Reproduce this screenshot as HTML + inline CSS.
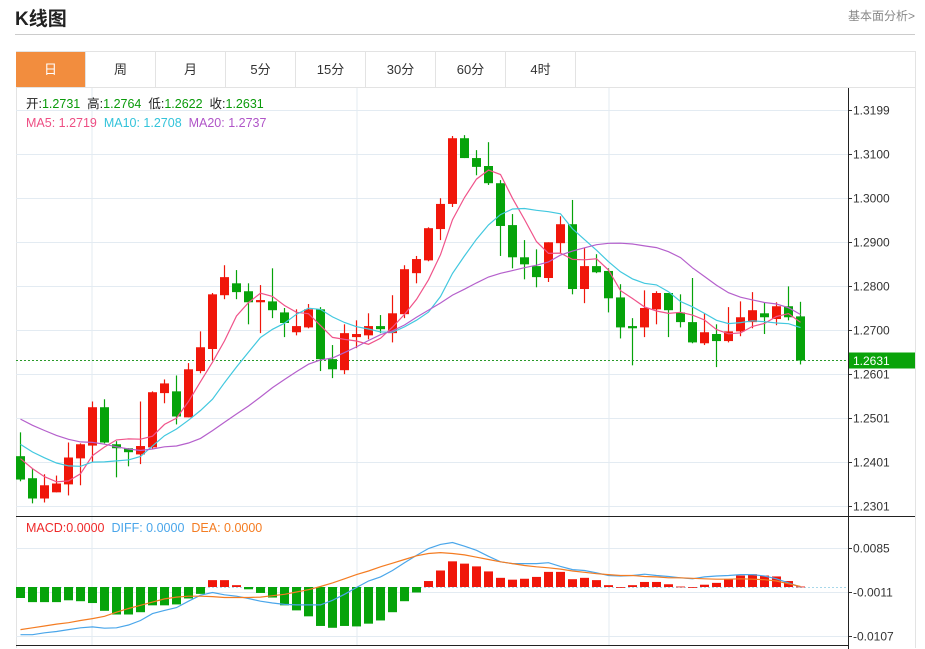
<!DOCTYPE html>
<html><head><meta charset="utf-8"><style>
body{margin:0;background:#fff;width:925px;height:649px;overflow:hidden;font-family:"Liberation Sans","Noto Sans CJK SC",sans-serif;}
#title{position:absolute;left:15px;top:4px;font-size:19px;font-weight:bold;color:#222;}
#more{position:absolute;left:848px;top:7px;font-size:12px;color:#888;}
#hr{position:absolute;left:15px;top:34px;width:900px;height:1px;background:#ccc;}
#box{position:absolute;left:16px;top:51px;width:898px;height:596px;border:1px solid #e3e3e3;border-bottom:none;}
.tab{position:absolute;top:52px;height:35px;width:70px;line-height:35px;text-align:center;font-size:13px;color:#333;border-right:1px solid #e3e3e3;box-sizing:border-box;}
.tab.on{background:#f28d3e;color:#fff;}
#tabline{position:absolute;left:16px;top:87px;width:899px;height:1px;background:#e3e3e3;}
svg{position:absolute;left:0;top:0;}
</style></head><body>
<div id="title">K线图</div>
<div id="more">基本面分析&gt;</div>
<div id="hr"></div>
<div id="box"></div>
<div class="tab on" style="left:16px">日</div>
<div class="tab" style="left:86px">周</div>
<div class="tab" style="left:156px">月</div>
<div class="tab" style="left:226px">5分</div>
<div class="tab" style="left:296px">15分</div>
<div class="tab" style="left:366px">30分</div>
<div class="tab" style="left:436px">60分</div>
<div class="tab" style="left:506px">4时</div>
<div id="tabline"></div>
<svg id="chart" width="925" height="649"></svg>
<script>
const priorCloses=[1.2600,1.2585,1.2570,1.2590,1.2560,1.2545,1.2530,1.2550,1.2520,1.2505,1.2490,1.2480,1.2470,1.2475,1.2450,1.2430,1.2440,1.2410,1.2400];
const opens=[1.2414,1.2364,1.2318,1.2332,1.2350,1.2409,1.2438,1.2525,1.2441,1.2432,1.2418,1.2434,1.2557,1.2561,1.2502,1.2607,1.2657,1.2779,1.2806,1.2788,1.2763,1.2765,1.2740,1.2695,1.2706,1.2747,1.2634,1.2609,1.2684,1.2688,1.2709,1.2693,1.2736,1.2829,1.2858,1.2929,1.2986,1.3135,1.3090,1.3072,1.3033,1.2938,1.2865,1.2845,1.2818,1.2897,1.2940,1.2793,1.2845,1.2834,1.2774,1.2709,1.2706,1.2747,1.2784,1.2740,1.2718,1.2670,1.2691,1.2675,1.2697,1.2718,1.2738,1.2725,1.2754,1.2731];
const closes=[1.2361,1.2318,1.2348,1.2352,1.2411,1.2441,1.2525,1.2445,1.2432,1.2423,1.2437,1.2559,1.2579,1.2504,1.2611,1.2661,1.2781,1.2820,1.2786,1.2763,1.2768,1.2745,1.2716,1.2709,1.2747,1.2634,1.2611,1.2693,1.2691,1.2709,1.2702,1.2738,1.2838,1.2861,1.2931,1.2986,1.3135,1.3090,1.3070,1.3033,1.2936,1.2865,1.2849,1.2820,1.2899,1.2940,1.2793,1.2845,1.2831,1.2772,1.2706,1.2704,1.2750,1.2784,1.2745,1.2718,1.2672,1.2695,1.2675,1.2697,1.2729,1.2745,1.2729,1.2754,1.2729,1.2631];
const highs=[1.2468,1.2386,1.2373,1.2370,1.2445,1.2443,1.2538,1.2543,1.2448,1.2432,1.2538,1.2561,1.2588,1.2597,1.2625,1.2697,1.2784,1.2847,1.2836,1.2806,1.2802,1.2840,1.2750,1.2747,1.2759,1.2752,1.2666,1.2713,1.2722,1.2738,1.2734,1.2779,1.2847,1.2868,1.2933,1.2999,1.3140,1.3142,1.3108,1.3126,1.3040,1.2963,1.2904,1.2883,1.2899,1.2958,1.2995,1.2886,1.2872,1.2840,1.2804,1.2727,1.2790,1.2788,1.2784,1.2781,1.2818,1.2738,1.2713,1.2752,1.2765,1.2786,1.2763,1.2763,1.2799,1.2764];
const lows=[1.2357,1.2307,1.2309,1.2332,1.2325,1.2348,1.2400,1.2443,1.2366,1.2391,1.2396,1.2430,1.2534,1.2486,1.2502,1.2602,1.2632,1.2770,1.2770,1.2713,1.2693,1.2727,1.2684,1.2688,1.2704,1.2607,1.2591,1.2600,1.2659,1.2679,1.2693,1.2672,1.2727,1.2806,1.2856,1.2904,1.2979,1.3090,1.3051,1.3029,1.2868,1.2840,1.2815,1.2797,1.2809,1.2874,1.2781,1.2761,1.2829,1.2740,1.2681,1.2620,1.2684,1.2713,1.2684,1.2706,1.2670,1.2666,1.2616,1.2672,1.2686,1.2704,1.2691,1.2711,1.2722,1.2622];
const macdBars=[-0.0024,-0.0033,-0.0033,-0.0033,-0.0029,-0.0031,-0.0035,-0.0052,-0.0060,-0.0060,-0.0055,-0.0040,-0.0040,-0.0038,-0.0025,-0.0015,0.0015,0.0015,0.0004,-0.0005,-0.0013,-0.0023,-0.0040,-0.0051,-0.0064,-0.0085,-0.0089,-0.0085,-0.0086,-0.0080,-0.0073,-0.0055,-0.0031,-0.0012,0.0013,0.0036,0.0056,0.0051,0.0045,0.0034,0.0020,0.0016,0.0018,0.0022,0.0033,0.0033,0.0017,0.0020,0.0015,0.0004,0.0000,0.0004,0.0011,0.0011,0.0006,0.0001,0.0000,0.0005,0.0009,0.0017,0.0025,0.0028,0.0025,0.0023,0.0013,0.0001];
const diffVals=[-0.0104,-0.0104,-0.0100,-0.0097,-0.0093,-0.0089,-0.0087,-0.0090,-0.0089,-0.0083,-0.0073,-0.0058,-0.0051,-0.0045,-0.0031,-0.0018,-0.0012,-0.0017,-0.0020,-0.0025,-0.0031,-0.0035,-0.0038,-0.0039,-0.0039,-0.0039,-0.0029,-0.0016,-0.0001,0.0013,0.0022,0.0036,0.0053,0.0069,0.0084,0.0093,0.0097,0.0089,0.0080,0.0067,0.0055,0.0051,0.0051,0.0051,0.0053,0.0045,0.0038,0.0036,0.0031,0.0025,0.0024,0.0025,0.0028,0.0025,0.0023,0.0020,0.0018,0.0022,0.0024,0.0025,0.0027,0.0027,0.0024,0.0018,0.0009,0.0000];
const deaVals=[-0.0093,-0.0089,-0.0085,-0.0081,-0.0078,-0.0073,-0.0069,-0.0064,-0.0055,-0.0047,-0.0040,-0.0033,-0.0026,-0.0022,-0.0020,-0.0020,-0.0021,-0.0023,-0.0023,-0.0023,-0.0022,-0.0019,-0.0016,-0.0011,-0.0006,0.0001,0.0009,0.0018,0.0027,0.0035,0.0044,0.0052,0.0060,0.0068,0.0073,0.0075,0.0073,0.0070,0.0065,0.0060,0.0055,0.0051,0.0047,0.0044,0.0042,0.0039,0.0035,0.0032,0.0029,0.0027,0.0025,0.0025,0.0023,0.0022,0.0020,0.0020,0.0019,0.0018,0.0017,0.0017,0.0018,0.0017,0.0016,0.0013,0.0007,0.0001];
const priceTicks=["1.3199","1.3100","1.3000","1.2900","1.2800","1.2700","1.2601","1.2501","1.2401","1.2301"];
const macdTicks=["0.0085","-0.0011","-0.0107"];

const svg=document.getElementById('chart');
const NS='http://www.w3.org/2000/svg';
function mk(t,a,p){const e=document.createElementNS(NS,t);for(const k in a)e.setAttribute(k,a[k]);(p||svg).appendChild(e);return e;}
const xOf=i=>20.5+i*12;
const yK=v=>110+(1.3199-v)*4409.8;
const yM=v=>587-v*4583;
// grid
const g=mk('g',{});


[92,357,609].forEach(x=>{mk('line',{x1:x,x2:x,y1:88,y2:645,stroke:'#e3ebf2','stroke-width':1},g);});
priceTicks.forEach(t=>{const y=Math.round(yK(+t))+0.5;mk('line',{x1:16,x2:848,y1:y,y2:y,stroke:'#e3ebf2'},g);
 const l=mk('line',{x1:848,x2:852,y1:y,y2:y,stroke:'#333'});
 const tx=mk('text',{x:853,y:y+4,'font-size':12,fill:'#333'});tx.textContent=t;
 
 });
macdTicks.forEach(t=>{const y=Math.round(yM(+t))+0.5;mk('line',{x1:16,x2:848,y1:y,y2:y,stroke:'#e3ebf2'},g);
 mk('line',{x1:848,x2:852,y1:y,y2:y,stroke:'#333'});
 const tx=mk('text',{x:853,y:y+4,'font-size':12,fill:'#333'});tx.textContent=t;
 
 });
mk('line',{x1:848.5,x2:848.5,y1:88,y2:649,stroke:'#222'});
mk('line',{x1:16,x2:915,y1:516.5,y2:516.5,stroke:'#222'});
mk('line',{x1:16,x2:848,y1:645.5,y2:645.5,stroke:'#222'});
// current price line
const cy=Math.round(yK(closes[closes.length-1]))+0.5;
mk('line',{x1:16,x2:848,y1:cy,y2:cy,stroke:'#2a9a2a','stroke-dasharray':'2,2'});
const tag=mk('rect',{x:849,y:cy-8,width:66,height:16,fill:'#0aa30a'});


const tt=mk('text',{x:853,y:cy+4.5,'font-size':12,fill:'#fff'});tt.textContent=closes[closes.length-1].toFixed(4);
// candles
closes.forEach((c,i)=>{const o=opens[i],up=c>=o,col=up?'#f0160a':'#06a30a';const x=xOf(i);
 const cg=mk('g',{});
 
 
 mk('line',{x1:x,x2:x,y1:yK(highs[i]),y2:yK(lows[i]),stroke:col,'stroke-width':1.2},cg);
 const t=yK(Math.max(o,c)),b=yK(Math.min(o,c));
 mk('rect',{x:x-4.5,y:t,width:9,height:Math.max(1.5,b-t),fill:col},cg);});
// MAs
const all=priorCloses.concat(closes);
function ma(n){return closes.map((c,i)=>{const j=i+priorCloses.length;let s=0;for(let k=j-n+1;k<=j;k++)s+=all[k];return s/n;});}
[[5,'#f0538a','ma5-line'],[10,'#42c8df','ma10-line'],[20,'#b560cc','ma20-line']].forEach(([n,col,name])=>{
 const pts=ma(n).map((v,i)=>xOf(i)+','+yK(v).toFixed(1)).join(' ');
 const p=mk('polyline',{points:pts,fill:'none',stroke:col,'stroke-width':1.2});
 
 });
// MACD
mk('line',{x1:16,x2:848,y1:587.5,y2:587.5,stroke:'#a8d8ea','stroke-dasharray':'2,2'});
macdBars.forEach((v,i)=>{const y0=yM(0),y1=yM(v);
 const r=mk('rect',{x:xOf(i)-4.5,y:Math.min(y0,y1),width:9,height:Math.max(0.8,Math.abs(y1-y0)),fill:v>=0?'#f0160a':'#06a30a'});
 
 });
[[diffVals,'#4aa6ea','diff-line'],[deaVals,'#f47c22','dea-line']].forEach(([arr,col,name])=>{
 const p=mk('polyline',{points:arr.map((v,i)=>xOf(i)+','+yM(v).toFixed(1)).join(' '),fill:'none',stroke:col,'stroke-width':1.2});
 
 });
// legends
function leg(y,parts,name){const t=mk('text',{x:26,y:y,'font-size':12.5});
 parts.forEach(([s,c])=>{const sp=mk('tspan',{fill:c},t);sp.textContent=s;});}
leg(108,[['开:','#222'],['1.2731  ','#0a9a0a'],['高:','#222'],['1.2764  ','#0a9a0a'],['低:','#222'],['1.2622  ','#0a9a0a'],['收:','#222'],['1.2631','#0a9a0a']],'ohlc-legend');
leg(127,[['MA5: 1.2719  ','#ee4f84'],['MA10: 1.2708  ','#33c3da'],['MA20: 1.2737','#b055c8']],'ma-legend');
leg(532,[['MACD:0.0000  ','#ee2a2a'],['DIFF: 0.0000  ','#4aa6ea'],['DEA: 0.0000','#f47c22']],'macd-legend');
svg.querySelectorAll('text').forEach(t=>t.setAttribute('xml:space','preserve'));
svg.querySelectorAll('text').forEach(t=>t.style.whiteSpace='pre');
</script>
</body></html>
